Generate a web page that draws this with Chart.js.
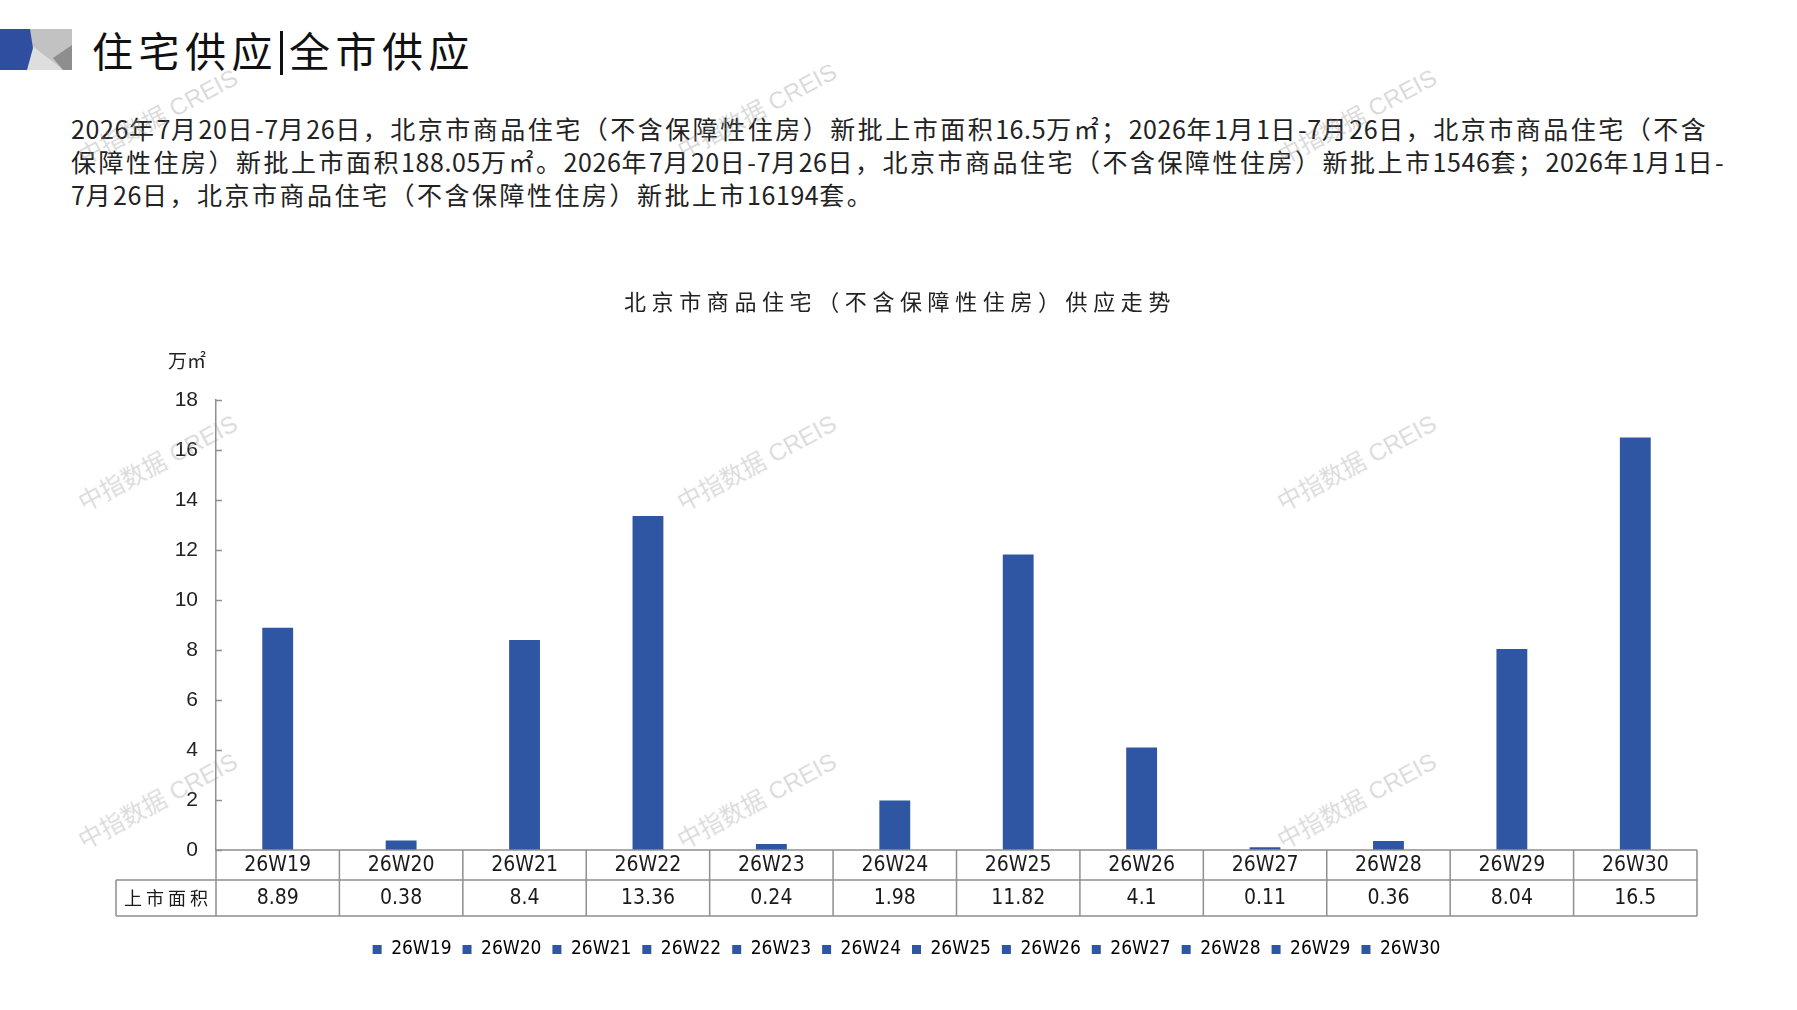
<!DOCTYPE html>
<html lang="zh-CN">
<head>
<meta charset="utf-8">
<title>住宅供应 | 全市供应</title>
<script src="https://cdn.jsdelivr.net/npm/chart.js@4/dist/chart.umd.min.js"></script>
<style>
  html, body { margin: 0; padding: 0; background: #fff; }
  body { width: 1797px; height: 1010px; position: relative; overflow: hidden;
         font-family: "Noto Sans CJK SC", "Noto Sans", sans-serif; color: #222; }
  #logo { position: absolute; left: 0; top: 0; }
  #heading { position: absolute; left: 92px; top: 21px; font-size: 41px; letter-spacing: 5.5px;
             line-height: 56px; color: #111; white-space: nowrap; }
  #heading .bar { display: inline-block; width: 3px; height: 44px; background: #111;
                  vertical-align: -8px; margin: 0 6px 0 2px; }
  #summary { position: absolute; left: 71px; top: 112px; font-size: 25px; letter-spacing: 2.5px;
             line-height: 33.2px; white-space: nowrap; color: #222; }
  #summary .n { letter-spacing: 0.6px; }
  #chart-wrap { position: absolute; left: 0; top: 230px; width: 1797px; height: 780px; }
  .wm { position: absolute; font-family: "Liberation Sans", "Noto Sans CJK SC", sans-serif;
        font-size: 24px; color: rgba(150,150,150,0.35); transform: translate(-50%, -50%) rotate(-28deg);
        white-space: nowrap; pointer-events: none; z-index: 5; }
</style>
</head>
<body>

<svg id="logo" width="80" height="80">
  <rect x="22" y="29" width="50" height="41" fill="#c2c2c2"/>
  <polygon points="27,42 64,70 22,70" fill="#dedede"/>
  <polygon points="72,45 53,58 63,70 72,70" fill="#8e8e8e"/>
  <polygon points="0,29 30,29 33,48 27,70 0,70" fill="#2f4ea0"/>
</svg>

<div id="heading">住宅供应<span class="bar"></span>全市供应</div>

<div id="summary"></div>

<div id="chart-wrap"><canvas id="supply-chart"></canvas></div>

<div class="wm" style="left:157px;top:115px">中指数据 CREIS</div>
<div class="wm" style="left:756px;top:109px">中指数据 CREIS</div>
<div class="wm" style="left:1356px;top:115px">中指数据 CREIS</div>
<div class="wm" style="left:157px;top:461px">中指数据 CREIS</div>
<div class="wm" style="left:756px;top:461px">中指数据 CREIS</div>
<div class="wm" style="left:1356px;top:461px">中指数据 CREIS</div>
<div class="wm" style="left:157px;top:799px">中指数据 CREIS</div>
<div class="wm" style="left:756px;top:799px">中指数据 CREIS</div>
<div class="wm" style="left:1356px;top:799px">中指数据 CREIS</div>

<script>
"use strict";

// ── Data ─────────────────────────────────────────────────────────────────────

const WEEKS = ["26W19", "26W20", "26W21", "26W22", "26W23", "26W24",
               "26W25", "26W26", "26W27", "26W28", "26W29", "26W30"];
const SUPPLY_AREA = [8.89, 0.38, 8.4, 13.36, 0.24, 1.98, 11.82, 4.1, 0.11, 0.36, 8.04, 16.5];
const ROW_LABEL = "上市面积";
const CHART_TITLE = "北京市商品住宅（不含保障性住房）供应走势";
const Y_UNIT = "万㎡";
const Y_MIN = 0, Y_MAX = 18, Y_STEP = 2;

const SUMMARY_LINES = [
  "2026年7月20日-7月26日，北京市商品住宅（不含保障性住房）新批上市面积16.5万㎡；2026年1月1日-7月26日，北京市商品住宅（不含",
  "保障性住房）新批上市面积188.05万㎡。2026年7月20日-7月26日，北京市商品住宅（不含保障性住房）新批上市1546套；2026年1月1日-",
  "7月26日，北京市商品住宅（不含保障性住房）新批上市16194套。",
];

const BAR_COLOR = "#2f56a2";
const GRID_COLOR = "#8f8f8f";
const NARROW = '"Liberation Sans Narrow", "DejaVu Sans Condensed", "Noto Sans CJK SC", sans-serif';
const CJK = '"Noto Sans CJK SC", sans-serif';

const ROW1_H = 30;   // week label row
const ROW2_H = 36;   // value row
const TABLE_LEFT = 116;

// ── Summary paragraph (digit runs get tighter spacing) ───────────────────────

function renderSummary() {
  const el = document.getElementById("summary");
  el.innerHTML = SUMMARY_LINES
    .map(line => line.replace(/([0-9.\-]+)/g, '<span class="n">$1</span>'))
    .join("<br>");
}

// ── Title, unit label, inward ticks and data table ───────────────────────────

const decorPlugin = {
  id: "decor",
  afterDraw(chart) {
    const ctx = chart.ctx;
    const xs = chart.scales.x;
    const ys = chart.scales.y;
    const top = chart.chartArea.bottom;
    const right = xs.right;
    const colW = (xs.right - xs.left) / WEEKS.length;

    ctx.save();

    // chart title
    ctx.fillStyle = "#222";
    ctx.font = `22px ${CJK}`;
    ctx.textAlign = "center";
    ctx.textBaseline = "middle";
    if ("letterSpacing" in ctx) ctx.letterSpacing = "5.6px";
    ctx.fillText(CHART_TITLE, 900, 72);
    if ("letterSpacing" in ctx) ctx.letterSpacing = "0px";

    // unit label
    ctx.font = `19px ${CJK}`;
    ctx.textAlign = "right";
    ctx.fillText(Y_UNIT, 206, 131);

    // inward tick marks on the value axis
    ctx.strokeStyle = GRID_COLOR;
    ctx.lineWidth = 1.5;
    ys.ticks.forEach((t, i) => {
      const py = Math.round(ys.getPixelForTick(i)) + 0.5;
      ctx.beginPath();
      ctx.moveTo(xs.left, py);
      ctx.lineTo(xs.left + 6, py);
      ctx.stroke();
    });

    // table grid
    ctx.beginPath();
    ctx.moveTo(xs.left, top); ctx.lineTo(right, top);
    ctx.moveTo(TABLE_LEFT, top + ROW1_H); ctx.lineTo(right, top + ROW1_H);
    ctx.moveTo(TABLE_LEFT, top + ROW1_H + ROW2_H); ctx.lineTo(right, top + ROW1_H + ROW2_H);
    ctx.moveTo(TABLE_LEFT, top + ROW1_H); ctx.lineTo(TABLE_LEFT, top + ROW1_H + ROW2_H);
    for (let i = 0; i <= WEEKS.length; i++) {
      const px = xs.left + i * colW;
      ctx.moveTo(px, top); ctx.lineTo(px, top + ROW1_H + ROW2_H);
    }
    ctx.stroke();

    // table text
    ctx.fillStyle = "#1a1a1a";
    ctx.textAlign = "center";
    ctx.textBaseline = "middle";
    ctx.font = `21px ${NARROW}`;
    WEEKS.forEach((w, i) => {
      const cx = xs.getPixelForValue(i);
      ctx.fillText(w, cx, top + ROW1_H / 2 + 1);
      ctx.fillText(String(SUPPLY_AREA[i]), cx, top + ROW1_H + ROW2_H / 2 + 1);
    });
    ctx.font = `18px ${CJK}`;
    if ("letterSpacing" in ctx) ctx.letterSpacing = "4px";
    ctx.fillText(ROW_LABEL, (TABLE_LEFT + xs.left) / 2 + 2, top + ROW1_H + ROW2_H / 2);
    if ("letterSpacing" in ctx) ctx.letterSpacing = "0px";

    ctx.restore();
  },
};

// ── Chart ────────────────────────────────────────────────────────────────────

function init() {
  renderSummary();

  const ctx = document.getElementById("supply-chart").getContext("2d");

  new Chart(ctx, {
    type: "bar",
    data: {
      labels: WEEKS,
      datasets: [{
        label: ROW_LABEL,
        data: SUPPLY_AREA,
        backgroundColor: BAR_COLOR,
        borderWidth: 0,
        barPercentage: 0.25,
        categoryPercentage: 1.0,
      }],
    },
    options: {
      responsive: true,
      maintainAspectRatio: false,
      animation: false,
      devicePixelRatio: 1,
      layout: { padding: { left: TABLE_LEFT, right: 100, top: 170, bottom: 41 } },
      plugins: {
        title: { display: false },
        tooltip: { enabled: false },
        legend: {
          position: "bottom",
          labels: {
            boxWidth: 9,
            boxHeight: 9,
            padding: 11,
            color: "#1a1a1a",
            font: { size: 19, family: NARROW },
            generateLabels: () => WEEKS.map((w, i) => ({
              text: w,
              fillStyle: BAR_COLOR,
              strokeStyle: BAR_COLOR,
              lineWidth: 0,
              hidden: false,
              index: i,
            })),
          },
        },
      },
      scales: {
        x: {
          grid: { display: false },
          border: { display: false },
          ticks: { display: false },
          afterFit: scale => { scale.height = 79; },
        },
        y: {
          min: Y_MIN,
          max: Y_MAX,
          ticks: {
            stepSize: Y_STEP,
            padding: 18,
            color: "#222",
            font: { size: 21, family: '"Liberation Sans", Arial, sans-serif' },
          },
          grid: { display: false, drawTicks: false, tickLength: 0 },
          border: { display: true, color: GRID_COLOR, width: 1.5 },
          afterFit: scale => { scale.width = 100; },
        },
      },
    },
    plugins: [decorPlugin],
  });
}

document.addEventListener("DOMContentLoaded", init);
</script>
</body>
</html>
